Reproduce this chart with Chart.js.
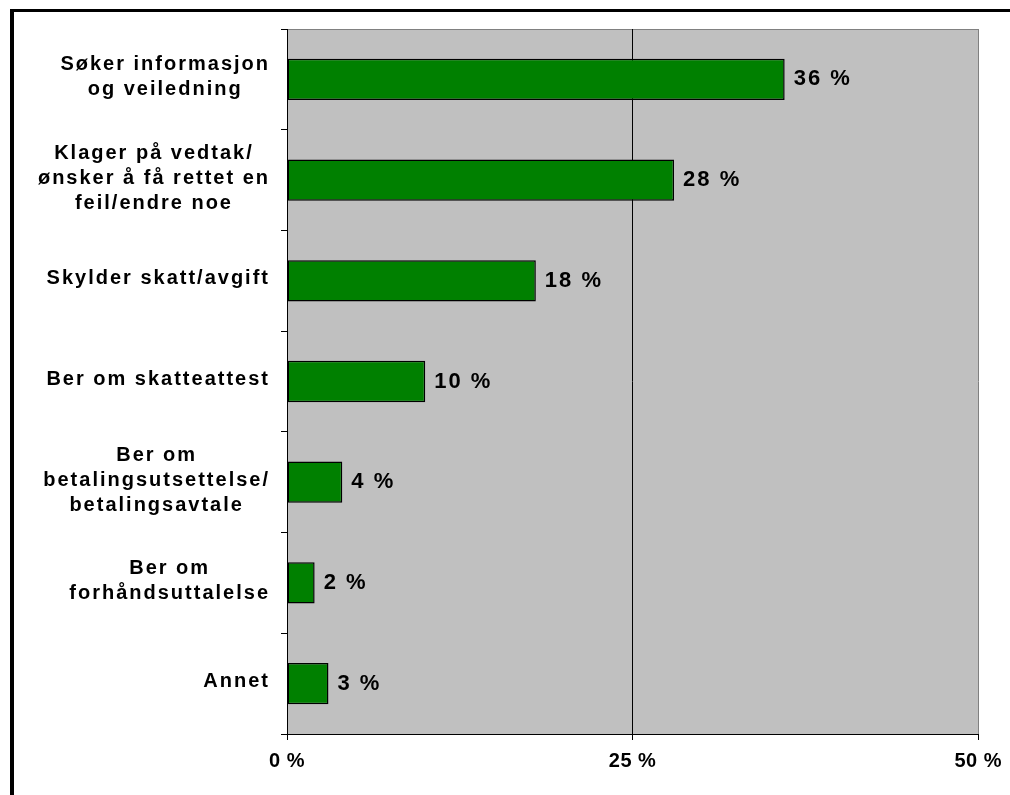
<!DOCTYPE html>
<html>
<head>
<meta charset="utf-8">
<script src="https://cdn.jsdelivr.net/npm/chart.js@4.4.0/dist/chart.umd.min.js"></script>
<style>
  html, body { margin: 0; padding: 0; background: #fff; }
  canvas { display: block; }
</style>
</head>
<body>
<canvas id="chart" width="1010" height="795"></canvas>
<script>
const categories = [
  ['Søker informasjon', 'og veiledning'],
  ['Klager på vedtak/', 'ønsker å få rettet en', 'feil/endre noe'],
  'Skylder skatt/avgift',
  'Ber om skatteattest',
  ['Ber om', 'betalingsutsettelse/', 'betalingsavtale'],
  ['Ber om', 'forhåndsuttalelse'],
  'Annet'
];
const shares = [36, 28, 18, 10, 4, 2, 3];
const xTicks = [0, 25, 50];

const FONT = '"Liberation Sans", Arial, sans-serif';

// outer frame + grey plot area
const frame = {
  id: 'frame',
  beforeDraw(chart) {
    const { ctx, chartArea: a } = chart;
    ctx.save();
    ctx.fillStyle = '#fff';
    ctx.fillRect(0, 0, chart.width, chart.height);
    ctx.fillStyle = '#000';
    ctx.fillRect(10, 9, chart.width - 10, 3);
    ctx.fillRect(10, 9, 4, chart.height - 9);
    ctx.fillStyle = '#c0c0c0';
    ctx.fillRect(a.left, a.top, a.right - a.left, a.bottom - a.top);
    ctx.strokeStyle = '#808080';
    ctx.lineWidth = 1;
    ctx.beginPath();
    ctx.moveTo(a.left, a.top + 0.5);
    ctx.lineTo(a.right, a.top + 0.5);
    ctx.stroke();
    ctx.restore();
    // spacing for the axis tick labels drawn next
    ctx.letterSpacing = '0.5px';
  }
};

// "36 %" etc. at the end of each bar
const valueLabels = {
  id: 'valueLabels',
  afterDatasetsDraw(chart) {
    const { ctx } = chart;
    ctx.save();
    ctx.font = `bold 22px ${FONT}`;
    ctx.letterSpacing = '2px';
    ctx.fillStyle = '#000';
    ctx.textAlign = 'left';
    ctx.textBaseline = 'middle';
    chart.getDatasetMeta(0).data.forEach((bar, i) => {
      ctx.fillText(shares[i] + ' %', bar.x + 9, bar.y);
    });
    ctx.restore();
  }
};

// category labels: lines centred on each other, block right-aligned
const categoryLabels = {
  id: 'categoryLabels',
  afterDraw(chart) {
    const { ctx } = chart;
    const y = chart.scales.y;
    const right = y.right - 19;
    const ls = 2;
    const lh = 25;
    ctx.save();
    ctx.font = `bold 20px ${FONT}`;
    ctx.letterSpacing = ls + 'px';
    ctx.fillStyle = '#000';
    ctx.textAlign = 'left';
    ctx.textBaseline = 'middle';
    categories.forEach((label, i) => {
      const lines = [].concat(label);
      const widths = lines.map(l => ctx.measureText(l).width - ls);
      const blockW = Math.max(...widths);
      const cx = right - blockW / 2;
      const cy = y.getPixelForTick(i) - 2;
      lines.forEach((l, j) => {
        ctx.fillText(l, cx - widths[j] / 2, cy + (j - (lines.length - 1) / 2) * lh);
      });
    });
    ctx.restore();
  }
};

new Chart(document.getElementById('chart'), {
  type: 'bar',
  data: {
    labels: categories,
    datasets: [{
      data: shares,
      backgroundColor: '#008000',
      borderColor: '#000',
      borderWidth: 1.5,
      borderSkipped: false,
      barPercentage: 0.41,
      categoryPercentage: 1
    }]
  },
  options: {
    indexAxis: 'y',
    responsive: false,
    animation: false,
    layout: { padding: { top: 29, right: 30, bottom: 21, left: 0 } },
    plugins: {
      legend: { display: false },
      tooltip: { enabled: false }
    },
    scales: {
      x: {
        min: 0,
        max: 50,
        afterBuildTicks: s => { s.ticks = xTicks.map(v => ({ value: v })); },
        afterFit: s => { s.height = 40; },
        ticks: {
          callback: v => v + ' %',
          font: { family: FONT, size: 20, weight: 'bold' },
          color: '#000',
          padding: 9,
          maxRotation: 0
        },
        grid: {
          color: c => c.tick.value === 25 ? '#000' : (c.tick.value === 50 ? '#808080' : 'rgba(0,0,0,0)'),
          tickColor: '#000',
          tickLength: 6,
          lineWidth: 1
        },
        border: { color: '#000', width: 1 }
      },
      y: {
        afterFit: s => { s.width = 287; },
        ticks: { display: false },
        grid: { drawOnChartArea: false, tickLength: 6, color: '#000' },
        border: { color: '#000', width: 1 }
      }
    }
  },
  plugins: [frame, valueLabels, categoryLabels]
});
</script>
</body>
</html>
